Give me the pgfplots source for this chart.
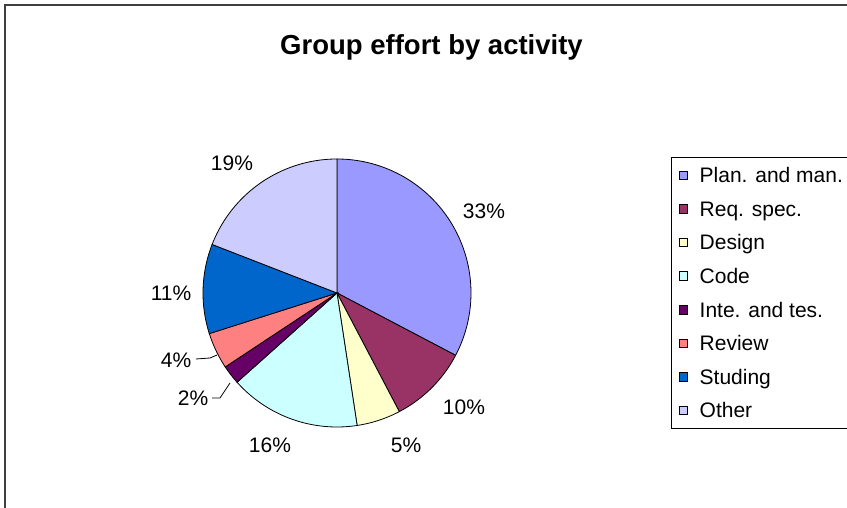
\documentclass[border=0pt]{standalone}
\usepackage{pgfplots}
\pgfplotsset{compat=1.18}
\usepackage{fontspec}
\setmainfont{Liberation Sans}
\definecolor{cPlan}{HTML}{9999FF}
\definecolor{cReq}{HTML}{993366}
\definecolor{cDes}{HTML}{FFFFCC}
\definecolor{cCode}{HTML}{CCFFFF}
\definecolor{cInte}{HTML}{660066}
\definecolor{cRev}{HTML}{FF8080}
\definecolor{cStu}{HTML}{0066CC}
\definecolor{cOth}{HTML}{CCCCFF}
% shares (percent): Plan 32.7, Req 9.6, Design 5.3, Code 15.8, Inte 2.3, Review 4.4, Studing 10.8, Other 19.1
% cumulative: 0, 32.7, 42.3, 47.6, 63.4, 65.7, 70.1, 80.9, 100
\begin{document}
\begin{tikzpicture}
\path[use as bounding box] (0,0) rectangle (847pt,508pt);
\clip (0,0) rectangle (847pt,508pt);
\fill[white] (0,0) rectangle (847pt,508pt);
\draw[gray!50!black, line width=1.2pt] (5pt,-2pt) -- (5pt,503pt) -- (850pt,503pt);
\node[anchor=base, font=\fontsize{27.5}{32}\selectfont\bfseries] at (431.5pt,453pt) {Group effort by activity};
\begin{axis}[
  at={(337pt,215pt)}, anchor=center,
  width=268pt, height=268pt, scale only axis,
  xmin=-1, xmax=1, ymin=-1, ymax=1,
  hide axis, clip=false,
  legend image code/.code={\draw[#1] (0pt,-4.25pt) rectangle (8.5pt,4.25pt);},
  legend cell align=left,
  legend style={at={(1.7463,1.00746)}, anchor=north west, draw=black, line width=0.8pt,
    font=\fontsize{21}{25}\selectfont,
    inner xsep=7.5pt, inner ysep=10.4pt, row sep=18.6pt, column sep=0pt,
    nodes={inner sep=0pt, text height=15pt, text depth=0pt},
    /tikz/every odd column/.append style={column sep=11.5pt}},
  every axis plot/.append style={draw=black, line width=0.8pt, samples=90, variable=\t},
]
\addplot[fill=cPlan, domain={90-3.6*32.7}:{90-3.6*0}] ({cos(\t)},{sin(\t)}) -- (axis cs:0,0) -- cycle;
\addlegendentry{Plan. and man.}
\addplot[fill=cReq, domain={90-3.6*42.3}:{90-3.6*32.7}] ({cos(\t)},{sin(\t)}) -- (axis cs:0,0) -- cycle;
\addlegendentry{Req. spec.}
\addplot[fill=cDes, domain={90-3.6*47.6}:{90-3.6*42.3}] ({cos(\t)},{sin(\t)}) -- (axis cs:0,0) -- cycle;
\addlegendentry{Design}
\addplot[fill=cCode, domain={90-3.6*63.4}:{90-3.6*47.6}] ({cos(\t)},{sin(\t)}) -- (axis cs:0,0) -- cycle;
\addlegendentry{Code}
\addplot[fill=cInte, domain={90-3.6*65.7}:{90-3.6*63.4}] ({cos(\t)},{sin(\t)}) -- (axis cs:0,0) -- cycle;
\addlegendentry{Inte. and tes.}
\addplot[fill=cRev, domain={90-3.6*70.1}:{90-3.6*65.7}] ({cos(\t)},{sin(\t)}) -- (axis cs:0,0) -- cycle;
\addlegendentry{Review}
\addplot[fill=cStu, domain={90-3.6*80.9}:{90-3.6*70.1}] ({cos(\t)},{sin(\t)}) -- (axis cs:0,0) -- cycle;
\addlegendentry{Studing}
\addplot[fill=cOth, domain={90-3.6*100}:{90-3.6*80.9}] ({cos(\t)},{sin(\t)}) -- (axis cs:0,0) -- cycle;
\addlegendentry{Other}
\end{axis}
\begin{scope}[every node/.style={font=\fontsize{21}{25}\selectfont, inner sep=0pt}]
\node at (484pt,297pt) {33\%};
\node at (464pt,101pt) {10\%};
\node at (406pt,63pt) {5\%};
\node at (270pt,63pt) {16\%};
\node at (193pt,110pt) {2\%};
\node at (176pt,148pt) {4\%};
\node at (171pt,215pt) {11\%};
\node at (232pt,345pt) {19\%};
\end{scope}
\draw[black, line width=0.8pt] (196pt,149pt) -- (210pt,150pt) -- (217pt,153pt);
\draw[black, line width=0.8pt] (212pt,110pt) -- (220pt,110pt) -- (230pt,125pt);
\end{tikzpicture}
\end{document}
